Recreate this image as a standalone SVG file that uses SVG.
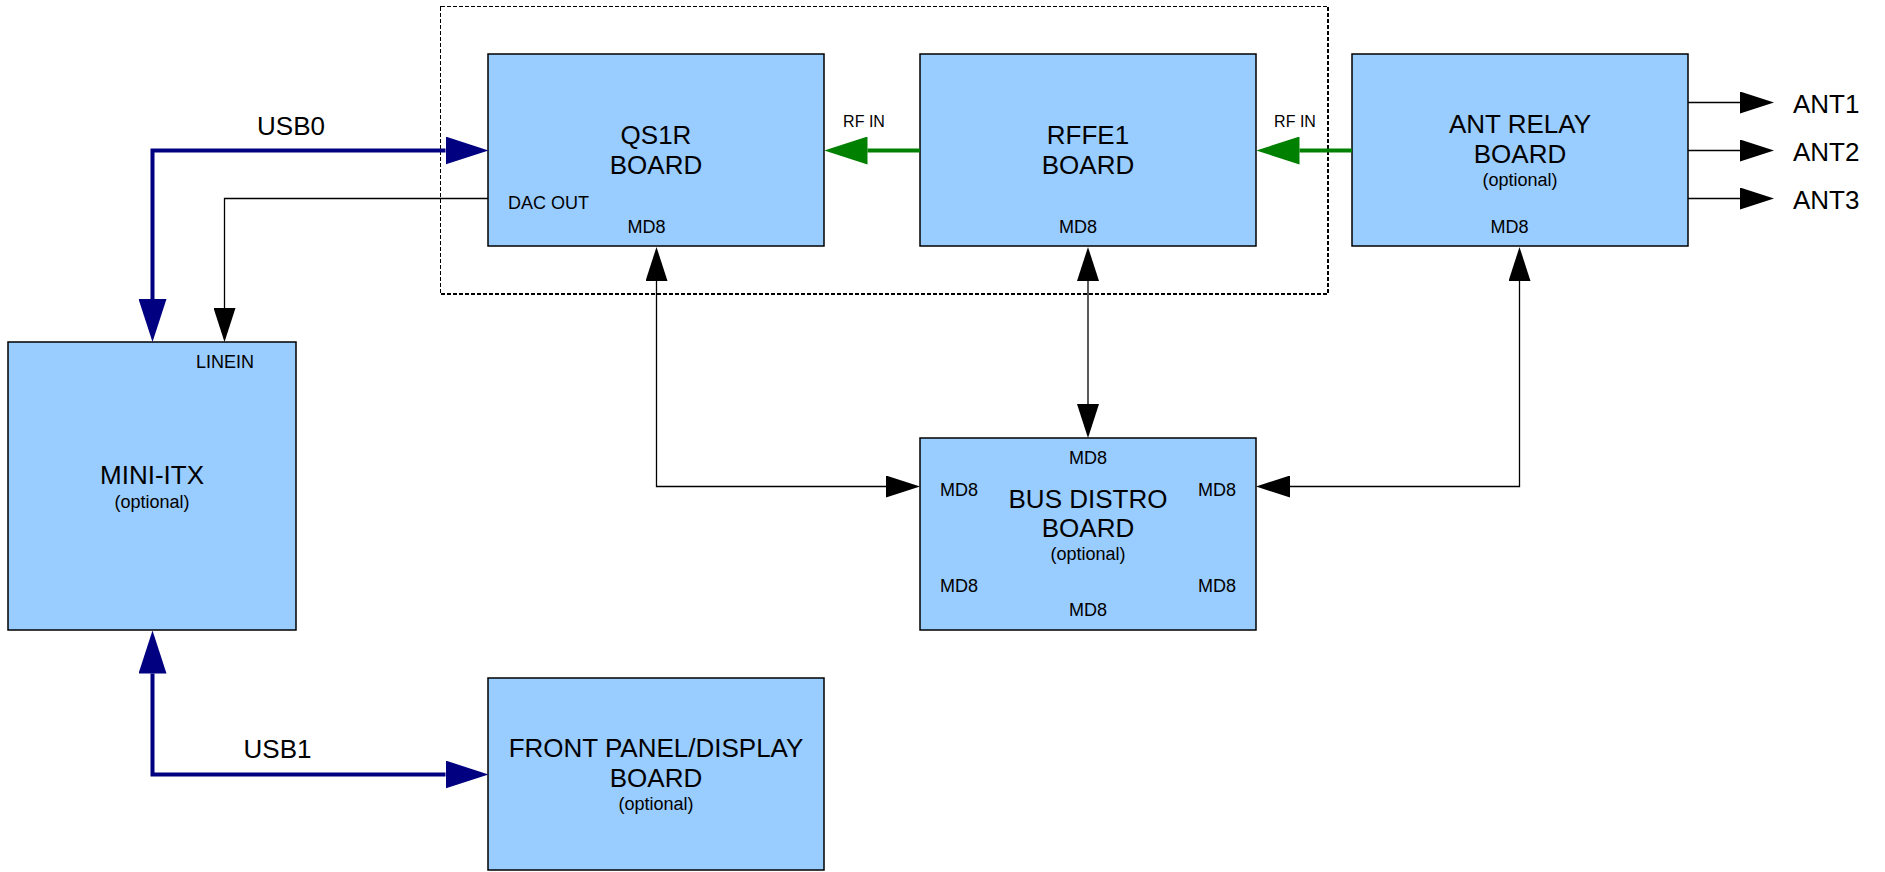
<svg xmlns="http://www.w3.org/2000/svg" width="1885" height="872" viewBox="0 0 1885 872">
<style>
.box{fill:#99ccff;stroke:#000;stroke-width:1.5}
text{font-family:"Liberation Sans",Arial,sans-serif;fill:#000}
.big{font-size:26px;text-anchor:middle}
.opt{font-size:18px;text-anchor:middle}
.sm{font-size:18px;text-anchor:middle}
.rf{font-size:16px;text-anchor:middle}
.thin{fill:none;stroke:#000;stroke-width:1.3}
.navy{fill:none;stroke:#000080;stroke-width:4}
.green{fill:none;stroke:#008000;stroke-width:4}
</style>
<defs>
<marker id="aNavy" markerUnits="userSpaceOnUse" viewBox="0 0 43 28" refX="0" refY="14" markerWidth="43" markerHeight="28" orient="auto-start-reverse"><path d="M0,0 L43,14 L0,28 z" fill="#000080"/></marker>
<marker id="aGreen" markerUnits="userSpaceOnUse" viewBox="0 0 43 28" refX="0" refY="14" markerWidth="43" markerHeight="28" orient="auto-start-reverse"><path d="M0,0 L43,14 L0,28 z" fill="#008000"/></marker>
<marker id="aBlack" markerUnits="userSpaceOnUse" viewBox="0 0 34 22" refX="0" refY="11" markerWidth="34" markerHeight="22" orient="auto-start-reverse"><path d="M0,0 L34,11 L0,22 z" fill="#000"/></marker>
</defs>
<rect x="0" y="0" width="1885" height="872" fill="#fff"/>
<rect id="group-frame" x="440.5" y="6.5" width="887.5" height="287.5" fill="none" stroke="#000" stroke-width="1.2" stroke-dasharray="4,2" shape-rendering="crispEdges"/>

<g id="qs1r">
<rect class="box" x="488" y="54" width="336" height="192"/>
<text class="big" x="656" y="144">QS1R</text>
<text class="big" x="656" y="174">BOARD</text>
<text font-size="18" x="508" y="209">DAC OUT</text>
<text class="sm" x="646.5" y="233">MD8</text>
</g>
<g id="rffe1">
<rect class="box" x="920" y="54" width="336" height="192"/>
<text class="big" x="1088" y="144">RFFE1</text>
<text class="big" x="1088" y="174">BOARD</text>
<text class="sm" x="1078" y="233">MD8</text>
</g>
<g id="antrelay">
<rect class="box" x="1352" y="54" width="336" height="192"/>
<text class="big" x="1520" y="133">ANT RELAY</text>
<text class="big" x="1520" y="163">BOARD</text>
<text class="opt" x="1520" y="186">(optional)</text>
<text class="sm" x="1509.5" y="233">MD8</text>
</g>
<g id="miniitx">
<rect class="box" x="8" y="342" width="288" height="288"/>
<text class="sm" x="225" y="368">LINEIN</text>
<text class="big" x="152" y="484">MINI-ITX</text>
<text class="opt" x="152" y="507.5">(optional)</text>
</g>
<g id="busdistro">
<rect class="box" x="920" y="438" width="336" height="192"/>
<text class="sm" x="1088" y="464">MD8</text>
<text class="sm" x="959" y="496">MD8</text>
<text class="sm" x="1217" y="496">MD8</text>
<text class="big" x="1088" y="507.5">BUS DISTRO</text>
<text class="big" x="1088" y="536.5">BOARD</text>
<text class="opt" x="1088" y="560">(optional)</text>
<text class="sm" x="959" y="592">MD8</text>
<text class="sm" x="1217" y="592">MD8</text>
<text class="sm" x="1088" y="616">MD8</text>
</g>
<g id="frontpanel">
<rect class="box" x="488" y="678" width="336" height="192"/>
<text class="big" x="656" y="757">FRONT PANEL/DISPLAY</text>
<text class="big" x="656" y="787">BOARD</text>
<text class="opt" x="656" y="810">(optional)</text>
</g>

<g id="connectors">
<path class="navy" d="M445.5,150.5 H152.5 V299" marker-start="url(#aNavy)" marker-end="url(#aNavy)"/>
<text class="big" x="291" y="135">USB0</text>
<path class="navy" d="M152.5,673.5 V774.5 H445.5" marker-start="url(#aNavy)" marker-end="url(#aNavy)"/>
<text class="big" x="277.5" y="757.5">USB1</text>
<path class="thin" d="M488,198.5 H224.5 V308" marker-end="url(#aBlack)"/>
<path class="thin" d="M656.5,281 V486.5 H886" marker-start="url(#aBlack)" marker-end="url(#aBlack)"/>
<path class="thin" d="M1088,281 V404" marker-start="url(#aBlack)" marker-end="url(#aBlack)"/>
<path class="thin" d="M1519.5,281 V486.5 H1290" marker-start="url(#aBlack)" marker-end="url(#aBlack)"/>
<path class="green" d="M920,150.5 H867.5" marker-end="url(#aGreen)"/>
<text class="rf" x="864" y="127">RF IN</text>
<path class="green" d="M1352,150.5 H1299.5" marker-end="url(#aGreen)"/>
<text class="rf" x="1295" y="127">RF IN</text>
<path class="thin" d="M1688,102.5 H1740" marker-end="url(#aBlack)"/>
<path class="thin" d="M1688,150.5 H1740" marker-end="url(#aBlack)"/>
<path class="thin" d="M1688,198.5 H1740" marker-end="url(#aBlack)"/>
<text font-size="26" x="1793" y="113">ANT1</text>
<text font-size="26" x="1793" y="161">ANT2</text>
<text font-size="26" x="1793" y="209">ANT3</text>
</g>
</svg>
